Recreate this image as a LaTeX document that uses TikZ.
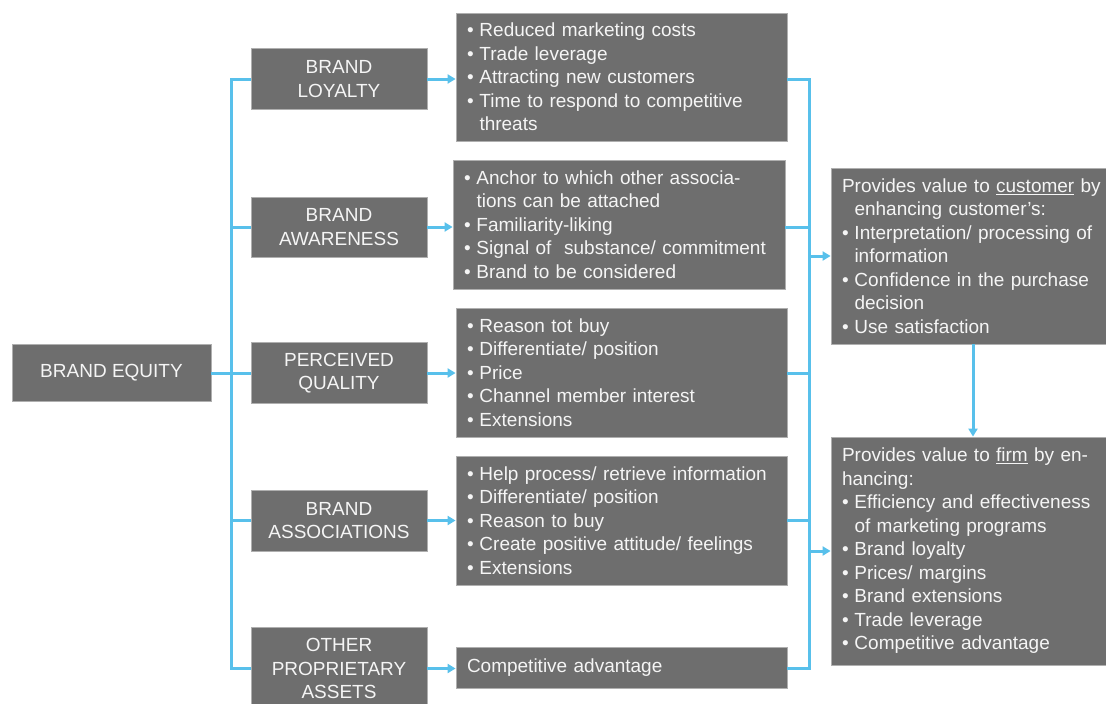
\documentclass[tikz,border=0pt]{standalone}
\usepackage{fontspec}
\setmainfont{Liberation Sans}
\usetikzlibrary{arrows.meta}
\definecolor{boxgray}{RGB}{110,110,110}
\definecolor{edgegray}{RGB}{175,175,175}
\definecolor{linkblue}{RGB}{88,192,235}
\definecolor{txtwhite}{RGB}{245,245,245}
\newcommand\bl{\makebox[12.5pt][l]{•}}
\newcommand\ind{\hspace*{12.5pt}}
\begin{document}
\begin{tikzpicture}[x=1pt,y=-1pt,
  box/.style={draw=edgegray, line width=0.8pt, fill=boxgray, text=txtwhite,
    font=\fontsize{19}{23.5}\selectfont, inner ysep=0pt},
  headbox/.style={box, align=center, minimum width=176pt, inner xsep=0pt},
  listbox/.style={box, align=left, inner xsep=11pt, text width=#1-22pt, minimum width=#1},
  conn/.style={draw=linkblue, line width=3pt, line join=miter},
  arr/.style={conn, -{Triangle[length=8pt,width=9pt]}}
]
\useasboundingbox (0,0) rectangle (1106,704);
\begin{scope}
\clip (0,0) rectangle (1106,704);
% left
\node[box, minimum width=199pt, minimum height=57pt, inner xsep=0pt] (eq) at (111.5,373) {BRAND EQUITY};
% middle headers
\node[headbox, minimum height=61pt] (bl) at (339,79) {BRAND\\LOYALTY};
\node[headbox, minimum height=60pt] (ba) at (339,227) {BRAND\\AWARENESS};
\node[headbox, minimum height=61pt] (pq) at (339,373) {PERCEIVED\\QUALITY};
\node[headbox, minimum height=61pt] (bas) at (339,520.5) {BRAND\\ASSOCIATIONS};
\node[headbox, minimum height=83pt] (opa) at (339,668.5) {OTHER\\PROPRIETARY\\ASSETS};
% lists
\node[listbox=331pt, minimum height=128pt] (l1) at (621.5,77) {%
\bl Reduced marketing costs\\
\bl Trade leverage\\
\bl Attracting new customers\\
\bl Time to respond to competitive\\
\ind threats};
\node[listbox=332pt, minimum height=129pt] (l2) at (619,224.5) {%
\bl Anchor to which other associa-\\
\ind tions can be attached\\
\bl Familiarity-liking\\
\bl Signal of\ \ substance/ commitment\\
\bl Brand to be considered};
\node[listbox=331pt, minimum height=129pt] (l3) at (621.5,372.5) {%
\bl Reason tot buy\\
\bl Differentiate/ position\\
\bl Price\\
\bl Channel member interest\\
\bl Extensions};
\node[listbox=331pt, minimum height=129pt] (l4) at (621.5,520.5) {%
\bl Help process/ retrieve information\\
\bl Differentiate/ position\\
\bl Reason to buy\\
\bl Create positive attitude/ feelings\\
\bl Extensions};
\node[listbox=331pt, minimum height=41pt] (l5) at (621.5,667.5) {Competitive advantage};
% right
\node[listbox=284pt, minimum height=176pt] (cust) at (973,256) {%
\mbox{Provides value to \underline{customer} by}\\
\ind enhancing customer’s:\\
\bl Interpretation/ processing of\\
\ind information\\
\bl Confidence in the purchase\\
\ind decision\\
\bl Use satisfaction};
\node[listbox=284pt, minimum height=228pt] (firm) at (973,551) {%
\mbox{Provides value to \underline{firm} by en-}\\
hancing:\\
\bl Efficiency and effectiveness\\
\ind of marketing programs\\
\bl Brand loyalty\\
\bl Prices/ margins\\
\bl Brand extensions\\
\bl Trade leverage\\
\bl Competitive advantage};
% connectors left trunk
\coordinate (trunk) at (231,0);
\draw[conn] (eq.east) -- (trunk |- eq.east);
\draw[conn] (bl.west) -- (trunk |- bl.west) -- (trunk |- opa.west) -- (opa.west);
\draw[conn] (ba.west) -- (trunk |- ba.west);
\draw[conn] (pq.west) -- (trunk |- pq.west);
\draw[conn] (bas.west) -- (trunk |- bas.west);
% header to list arrows
\draw[arr] (bl.east) -- (bl.east -| l1.west);
\draw[arr] (ba.east) -- (ba.east -| l2.west);
\draw[arr] (pq.east) -- (pq.east -| l3.west);
\draw[arr] (bas.east) -- (bas.east -| l4.west);
\draw[arr] (opa.east) -- (opa.east -| l5.west);
% right bus
\coordinate (bus) at (809,0);
\draw[conn] (l1.east |- bl.east) -- (bus |- bl.east) -- (bus |- opa.east) -- (l5.east |- opa.east);
\draw[conn] (l2.east |- ba.east) -- (bus |- ba.east);
\draw[conn] (l3.east |- pq.east) -- (bus |- pq.east);
\draw[conn] (l4.east |- bas.east) -- (bus |- bas.east);
\draw[arr] (bus |- cust.west) -- (cust.west);
\draw[arr] (bus |- firm.west) -- (firm.west);
\draw[arr] (cust.south) -- (firm.north);
\end{scope}
\end{tikzpicture}
\end{document}
